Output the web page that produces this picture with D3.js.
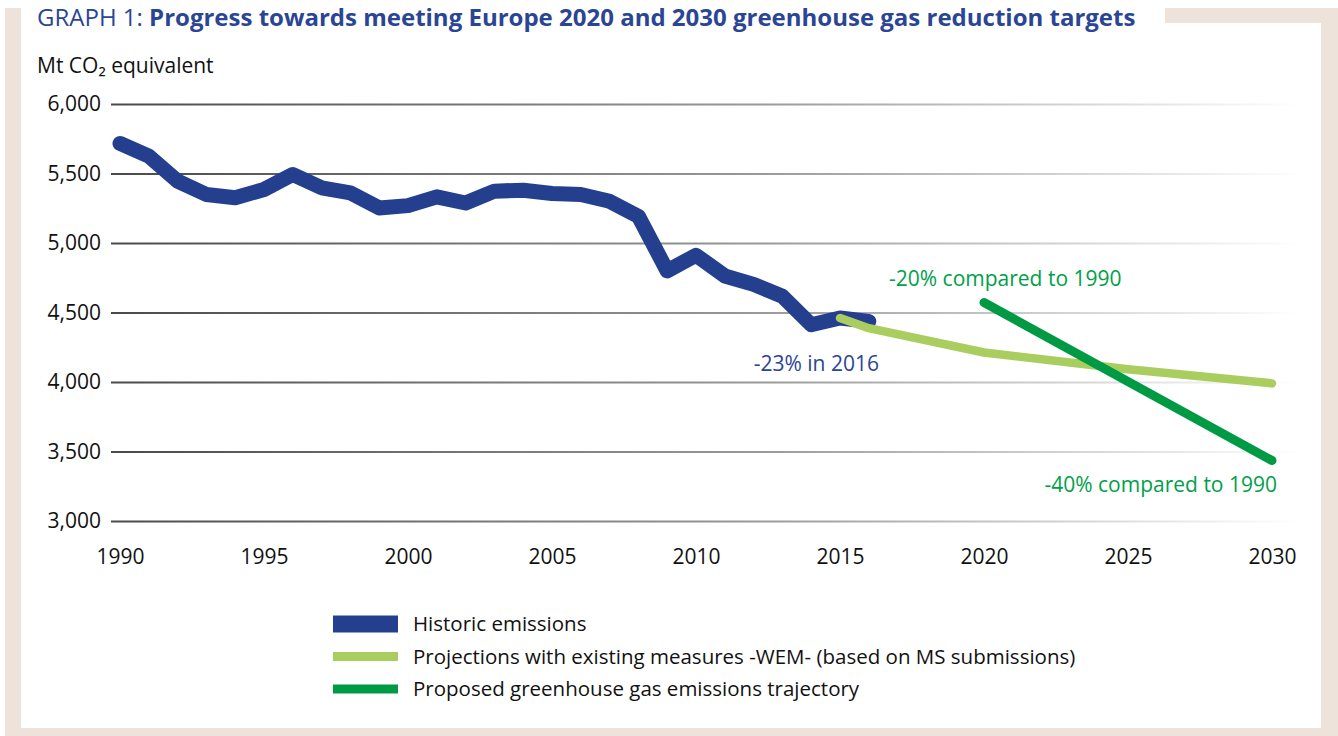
<!DOCTYPE html>
<html>
<head>
<meta charset="utf-8">
<script src="https://cdn.jsdelivr.net/npm/d3@7"></script>
<style>
  body { margin: 0; background: #fff; }
  svg { display: block; font-family: "Open Sans", "Noto Sans", sans-serif; }
</style>
</head>
<body>
<script>
// chart size
var width = 1338;
var height = 736;

// data
var historicYears = [1990, 1991, 1992, 1993, 1994, 1995, 1996, 1997, 1998, 1999,
  2000, 2001, 2002, 2003, 2004, 2005, 2006, 2007, 2008, 2009,
  2010, 2011, 2012, 2013, 2014, 2015, 2016];
var historicValues = [5716, 5625, 5445, 5349, 5325, 5385, 5493, 5397, 5361, 5252,
  5269, 5332, 5288, 5373, 5380, 5356, 5349, 5300, 5192, 4799,
  4912, 4763, 4702, 4617, 4412, 4460, 4436];

var wemYears = [2015, 2016, 2020, 2025, 2030];
var wemValues = [4460, 4387, 4212, 4092, 3990];

var targetYears = [2020, 2030];
var targetValues = [4572, 3435];

var yTicks = [3000, 3500, 4000, 4500, 5000, 5500, 6000];
var xTicks = [1990, 1995, 2000, 2005, 2010, 2015, 2020, 2025, 2030];

var legendLabels = [
  "Historic emissions",
  "Projections with existing measures -WEM- (based on MS submissions)",
  "Proposed greenhouse gas emissions trajectory"
];

// colours
var blue = "#253f8f";
var lightGreen = "#a9cd5f";
var darkGreen = "#009a44";
var beige = "#ede3da";

var svg = d3.select("body")
  .append("svg")
  .attr("width", width)
  .attr("height", height);

// frame
svg.append("rect").attr("x", 5).attr("y", 8).attr("width", 16).attr("height", 728).attr("fill", beige);
svg.append("rect").attr("x", 1321).attr("y", 8).attr("width", 17).attr("height", 728).attr("fill", beige);
svg.append("rect").attr("x", 5).attr("y", 728).attr("width", 1333).attr("height", 8).attr("fill", beige);
svg.append("rect").attr("x", 1165).attr("y", 8).attr("width", 173).attr("height", 15).attr("fill", beige);

// title
var title = svg.append("text")
  .attr("x", 37)
  .attr("y", 26)
  .attr("fill", "#2b4595")
  .style("font-size", "24px");
title.append("tspan").style("font-weight", 400).text("GRAPH 1: ");
title.append("tspan").style("font-weight", 700).text("Progress towards meeting Europe 2020 and 2030 greenhouse gas reduction targets");

// scales
var x = d3.scaleLinear().domain([1990, 2030]).range([120, 1272]);
var y = d3.scaleLinear().domain([3000, 6000]).range([521, 104]);

// fading grid gradient
var grad = svg.append("defs").append("linearGradient")
  .attr("id", "gridFade")
  .attr("gradientUnits", "userSpaceOnUse")
  .attr("x1", 0).attr("x2", 1190).attr("y1", 0).attr("y2", 0);
grad.append("stop").attr("offset", "0%").attr("stop-color", "#4a4a4a");
grad.append("stop").attr("offset", "55%").attr("stop-color", "#9a9a9a");
grad.append("stop").attr("offset", "100%").attr("stop-color", "#ffffff");

// y axis with grid lines
var yAxis = svg.append("g")
  .attr("transform", "translate(111,0)")
  .call(d3.axisLeft(y).tickValues(yTicks).tickSize(-1190).tickPadding(10).tickFormat(d3.format(",")));
yAxis.attr("font-family", null).attr("font-size", null);
yAxis.select(".domain").remove();
yAxis.selectAll("line").attr("stroke", "url(#gridFade)").attr("stroke-width", 2);
yAxis.selectAll("text").attr("fill", "#111").style("font-size", "21px");

// y axis title
var yTitle = svg.append("text")
  .attr("x", 37)
  .attr("y", 73)
  .attr("fill", "#111")
  .style("font-size", "21px");
yTitle.append("tspan").text("Mt CO");
yTitle.append("tspan").text("₂");
yTitle.append("tspan").text(" equivalent");

// x axis
var xAxis = svg.append("g")
  .attr("transform", "translate(0,521)")
  .call(d3.axisBottom(x).tickValues(xTicks).tickSize(0).tickPadding(28).tickFormat(d3.format("d")));
xAxis.attr("font-family", null).attr("font-size", null);
xAxis.select(".domain").remove();
xAxis.selectAll("text").attr("fill", "#111").style("font-size", "21px");

// lines
var line = d3.line()
  .x(function(d) { return x(d[0]); })
  .y(function(d) { return y(d[1]); });

svg.append("path")
  .datum(d3.zip(historicYears, historicValues))
  .attr("d", line)
  .attr("fill", "none")
  .attr("stroke", blue)
  .attr("stroke-width", 15)
  .attr("stroke-linejoin", "round")
  .attr("stroke-linecap", "round");

svg.append("path")
  .datum(d3.zip(wemYears, wemValues))
  .attr("d", line)
  .attr("fill", "none")
  .attr("stroke", lightGreen)
  .attr("stroke-width", 8.5)
  .attr("stroke-linejoin", "round")
  .attr("stroke-linecap", "round");

svg.append("path")
  .datum(d3.zip(targetYears, targetValues))
  .attr("d", line)
  .attr("fill", "none")
  .attr("stroke", darkGreen)
  .attr("stroke-width", 9)
  .attr("stroke-linecap", "round");

// annotations
svg.append("text")
  .attr("x", 879).attr("y", 371)
  .attr("text-anchor", "end")
  .attr("fill", "#2b4595")
  .style("font-size", "21px")
  .text("-23% in 2016");

svg.append("text")
  .attr("x", 889).attr("y", 286)
  .attr("fill", "#00a04a")
  .style("font-size", "21px")
  .text("-20% compared to 1990");

svg.append("text")
  .attr("x", 1277).attr("y", 492)
  .attr("text-anchor", "end")
  .attr("fill", "#00a04a")
  .style("font-size", "21px")
  .text("-40% compared to 1990");

// legend
var legendColors = [blue, lightGreen, darkGreen];
var legendThick = [17, 9, 9];
var legend = svg.append("g");
legendLabels.forEach(function(label, i) {
  var cy = 624 + i * 32.5;
  legend.append("rect")
    .attr("x", 333)
    .attr("y", cy - legendThick[i] / 2)
    .attr("width", 65)
    .attr("height", legendThick[i])
    .attr("fill", legendColors[i]);
  legend.append("text")
    .attr("x", 413)
    .attr("y", cy)
    .attr("dy", "0.35em")
    .attr("fill", "#111")
    .style("font-size", "20.5px")
    .text(label);
});
</script>
</body>
</html>
